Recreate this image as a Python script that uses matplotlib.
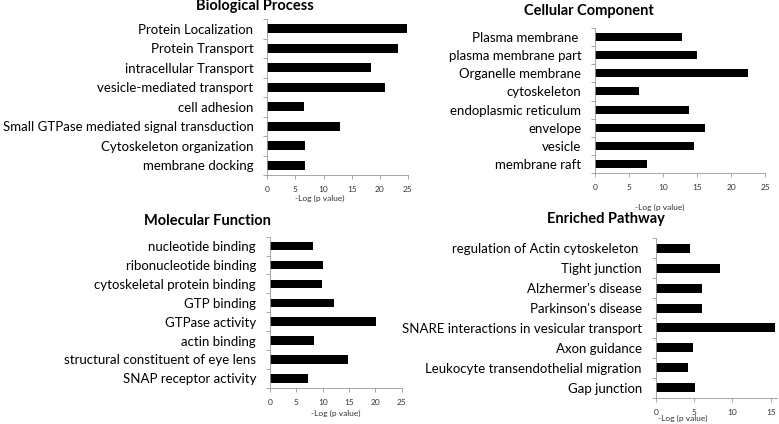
import matplotlib
matplotlib.use("Agg")
import matplotlib.pyplot as plt
import numpy as np

plt.rcParams['font.family'] = ['Lato', 'DejaVu Sans']

# data, top to bottom
bio_terms = ["Protein Localization", "Protein Transport", "intracellular Transport",
             "vesicle-mediated transport", "cell adhesion",
             "Small GTPase mediated signal transduction", "Cytoskeleton organization",
             "membrane docking"]
bio_vals = [24.9, 23.3, 18.5, 21.0, 6.5, 12.9, 6.75, 6.7]

cell_terms = ["Plasma membrane ", "plasma membrane part", "Organelle membrane",
              "cytoskeleton", "endoplasmic reticulum", "envelope", "vesicle",
              "membrane raft"]
cell_vals = [12.8, 14.95, 22.4, 6.4, 13.8, 16.2, 14.5, 7.65]

mol_terms = ["nucleotide binding", "ribonucleotide binding", "cytoskeletal protein binding",
             "GTP binding", "GTPase activity", "actin binding",
             "structural constituent of eye lens", "SNAP receptor activity"]
mol_vals = [8.2, 10.1, 9.8, 12.2, 20.2, 8.3, 14.9, 7.3]

path_terms = ["regulation of Actin cytoskeleton ", "Tight junction", "Alzhermer's disease",
              "Parkinson's disease", "SNARE interactions in vesicular transport",
              "Axon guidance", "Leukocyte transendothelial migration", "Gap junction"]
path_vals = [4.5, 8.4, 6.0, 6.0, 15.6, 4.8, 4.2, 5.1]

W, H = 779, 424
fig = plt.figure(figsize=(W / 100, H / 100), dpi=100)


def panel(left, right, top, bottom, terms, vals, xmax, title, tx, ty, lx, ly):
    ax = fig.add_axes([left / W, 1 - bottom / H, (right - left) / W, (bottom - top) / H])
    y = np.arange(len(terms))
    ax.barh(y, vals, height=0.45, color="black")
    ax.set_ylim(len(terms) - 0.5, -0.5)
    ax.set_xlim(0, xmax)
    ax.set_xticks(np.arange(0, xmax + 0.01, 5))
    ax.set_yticks(y)
    ax.set_yticklabels(terms, fontsize=9.5)
    ax.set_yticks(np.arange(-0.5, len(terms)), minor=True)
    ax.tick_params(axis="y", which="major", length=0, pad=10)
    ax.tick_params(axis="y", which="minor", length=3, color="#999999", width=0.6)
    ax.tick_params(axis="x", labelsize=6, length=3, color="#999999", width=0.6, pad=5,
                   labelcolor="#333333")
    for s in ["top", "right"]:
        ax.spines[s].set_visible(False)
    for s in ["left", "bottom"]:
        ax.spines[s].set_color("#999999")
        ax.spines[s].set_linewidth(0.6)
    fig.text(tx / W, 1 - ty / H, title, fontsize=10.5, fontweight="bold",
             ha="center", va="center")
    fig.text(lx / W, 1 - ly / H, "-Log (p value)", fontsize=6, ha="center",
             va="center", color="#333333")
    return ax


panel(267.3, 408, 19, 175, bio_terms, bio_vals, 25,
      "Biological Process", 255, 6, 320, 198)
panel(595.3, 765.3, 27.7, 173.3, cell_terms, cell_vals, 25,
      "Cellular Component", 589, 11, 660, 207)
panel(270, 401.7, 236.7, 387.7, mol_terms, mol_vals, 25,
      "Molecular Function", 207, 221, 336, 413)
panel(655.7, 777, 238.3, 397.7, path_terms, path_vals, 15.8,
      "Enriched Pathway", 606, 219, 683, 418)

fig.savefig("out.png", dpi=100, facecolor="white")
